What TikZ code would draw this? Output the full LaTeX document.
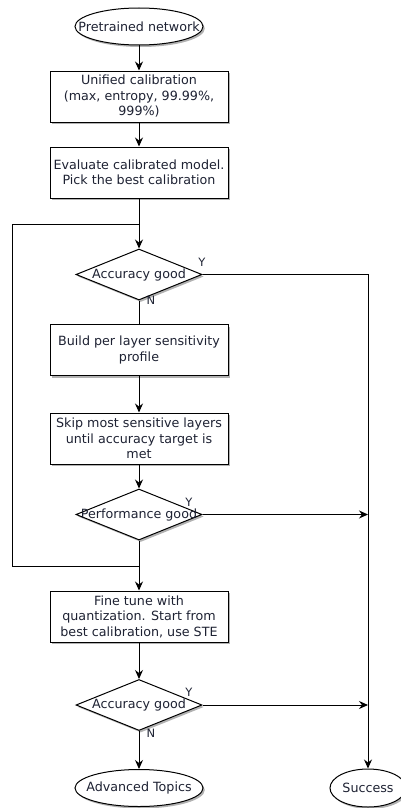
\documentclass[tikz,border=0pt]{standalone}
\usepackage{fontspec}
\setmainfont{DejaVu Sans}
\usetikzlibrary{shapes.geometric,arrows.meta,shadows}
\definecolor{ink}{HTML}{1E2233}
\begin{document}
\begin{tikzpicture}[x=1pt,y=-1pt,
  every node/.style={text=ink, font=\fontsize{12.7}{15.5}\selectfont},
  shadowed/.style={fill=white, drop shadow={shadow xshift=1.8pt, shadow yshift=-2pt, fill=black!55, opacity=0.55}},
  stepbox/.style={draw, rectangle, shadowed, minimum width=178pt, minimum height=51pt, align=center, inner sep=1pt},
  term/.style={draw, ellipse, shadowed, minimum width=128pt, minimum height=37pt, inner sep=0pt},
  decision/.style={draw, diamond, shadowed, minimum width=126pt, minimum height=51pt, inner sep=0pt},
  dlabel/.style={inner sep=0pt},
  yn/.style={inner sep=0pt, font=\fontsize{11.5}{13}\selectfont},
  flow/.style={draw, -{Stealth[length=9pt,width=8pt,inset=3pt]}},
  plain/.style={draw},
  line width=1pt]
\useasboundingbox (0,0) rectangle (401,808);

% main column (shapes keep a fixed size, their captions are set on top)
\node[term] (pre) at (139,26.5) {};
\node[dlabel] (pret) at (pre) {Pretrained network};
\node[stepbox] (calib) at (139,96.5) {Unified calibration\\(max, entropy, 99.99\%,\\999\%)};
\node[stepbox] (eval) at (139,172.5) {Evaluate calibrated model.\\Pick the best calibration};
\node[decision] (acc1) at (139,274.5) {};
\node[dlabel] (acc1t) at (acc1) {Accuracy good};
\node[stepbox] (sens) at (139,350) {Build per layer sensitivity\\profile};
\node[stepbox] (skip) at (139,438.5) {Skip most sensitive layers\\until accuracy target is\\met};
\node[decision] (perf) at (139,514.5) {};
\node[dlabel] (perft) at (perf) {Performance good};
\node[stepbox] (tune) at (139,616.5) {Fine tune with\\quantization. Start from\\best calibration, use STE};
\node[decision] (acc2) at (139,705) {};
\node[dlabel] (acc2t) at (acc2) {Accuracy good};
\node[term] (adv) at (139,788) {};
\node[dlabel] (advt) at (adv) {Advanced Topics};
\node[term, minimum width=76pt, minimum height=38pt] (succ) at (368,788) {};
\node[dlabel] (succt) at (succ) {Success};

% junctions of the feedback loop and the right-hand bus
\coordinate (jtop) at (139,224);
\coordinate (jbot) at (139,566);
\coordinate (ltop) at (12,224);
\coordinate (lbot) at (12,566);
\coordinate (rtop) at (368,274.5);
\coordinate (rperf) at (368,514.5);
\coordinate (racc) at (368,705);

% connectors
\path[flow] (pre) -- (calib);
\path[flow] (calib) -- (eval);
\path[flow] (eval) -- (acc1);
\path[plain] (acc1) -- (sens);
\path[flow] (sens) -- (skip);
\path[flow] (skip) -- (perf);
\path[flow] (perf) -- (tune);
\path[flow] (tune) -- (acc2);
\path[flow] (acc2) -- (adv);
\path[plain] (jbot) -- (lbot) -- (ltop) -- (jtop);
\path[flow] (acc1.east) -- (rtop) -- (succ.north);
\path[flow] (perf.east) -- (rperf);
\path[flow] (acc2.east) -- (racc);

% branch labels
\node[yn] (y1) at (202,262) {Y};
\node[yn] (n1) at (151,300.5) {N};
\node[yn] (y2) at (189,502) {Y};
\node[yn] (y3) at (189,692.5) {Y};
\node[yn] (n3) at (151,733) {N};
\end{tikzpicture}
\end{document}
